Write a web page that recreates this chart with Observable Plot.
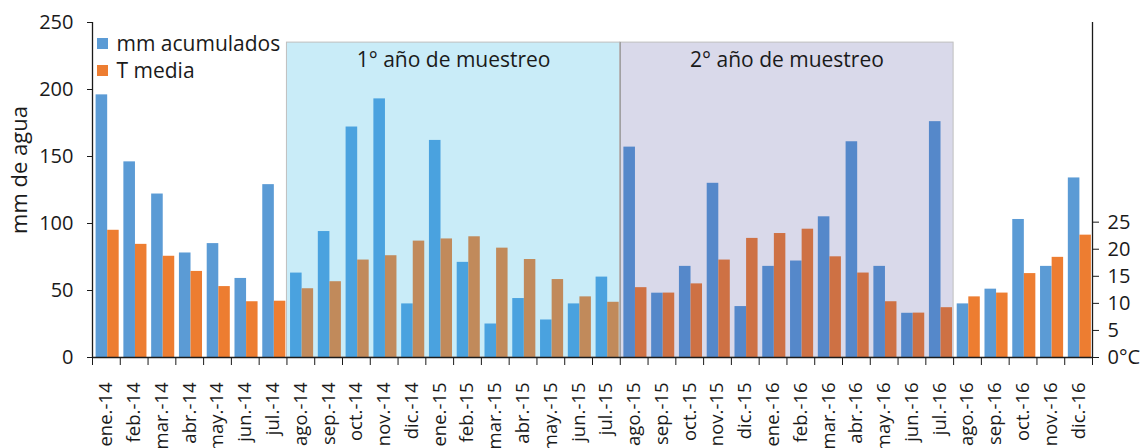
<!DOCTYPE html>
<html><head><meta charset="utf-8">
<script src="https://cdn.jsdelivr.net/npm/d3@7"></script>
<script src="https://cdn.jsdelivr.net/npm/@observablehq/plot@0.6"></script>
<style>
body{margin:0;background:#fff}
#chart svg{font-family:"Open Sans",sans-serif;overflow:visible}
</style>
</head><body><div id="chart"></div>
<script>
// ---- data ----
const months = ["ene.-14","feb.-14","mar.-14","abr.-14","may.-14","jun.-14","jul.-14",
  "ago.-14","sep.-14","oct.-14","nov.-14","dic.-14","ene.-15","feb.-15","mar.-15","abr.-15","may.-15","jun.-15","jul.-15",
  "ago.-15","sep.-15","oct.-15","nov.-15","dic.-15","ene.-16","feb.-16","mar.-16","abr.-16","may.-16","jun.-16","jul.-16",
  "ago.-16","sep.-16","oct.-16","nov.-16","dic.-16"];
const mmAcumulados = [196,146,122,78,85,59,129,
  63,94,172,193,40,162,71,25,44,28,40,60,
  157,48,68,130,38,68,72,105,161,68,33,176,
  40,51,103,68,134];
const tMedia = [23.5,20.9,18.7,15.9,13.1,10.3,10.4,
  12.7,14.0,18.0,18.8,21.5,21.9,22.3,20.2,18.1,14.4,11.2,10.2,
  12.9,11.9,13.6,18.0,22.0,22.9,23.7,18.6,15.6,10.3,8.2,9.2,
  11.2,11.9,15.5,18.5,22.6];
const mmTicks = [0,50,100,150,200,250];
const tempTicks = [0,5,10,15,20,25];
const periodLabels = ["1° año de muestreo","2° año de muestreo"];
const periodStart = ["ago.-14","ago.-15"];
const periodEnd = ["jul.-15","jul.-16"];
const periodTop = 235;
const seriesNames = ["mm acumulados","T media"];

// ---- styles ----
const K = 4.04; // mm per °C on the shared vertical scale
const blueCols = ["#5B9BD5","#4AA2DF","#5588CA"];
const orangeCols = ["#ED7D31","#C18A5B","#CE7144"];
const bgCols = ["#C9ECF8","#D9D9EA"];

const periods = periodLabels.map((label,k)=>({
  label, s: months.indexOf(periodStart[k]), e: months.indexOf(periodEnd[k]) + 1, fill: bgCols[k]
}));
const data = months.map((m,i)=>{
  let region = 0;
  periods.forEach((p,k)=>{ if (i>=p.s && i<p.e) region = k+1; });
  return {month:m, i, mm:mmAcumulados[i], t:tMedia[i], region};
});

const chart = Plot.plot({
  width: 1146, height: 448,
  marginLeft: 92, marginRight: 54, marginTop: 22, marginBottom: 91,
  style: {fontSize: "20px", color: "#1a1a1a", background: "#fff"},
  x: {type: "linear", domain: [0, months.length]},
  y: {domain: [0, 250]},
  color: {type: "identity"},
  marks: [
    Plot.rect(periods, {x1: "s", x2: "e", y1: 0, y2: periodTop, fill: "fill", stroke: "#BFBFBF", strokeWidth: 1}),
    Plot.ruleX([periods[1].s], {y1: 0, y2: periodTop, stroke: "#9a9a9a", strokeWidth: 1.2}),
    Plot.rectY(data, {x1: d=>d.i, x2: d=>d.i+1, y: "mm", insetLeft: 3.6, insetRight: 12.6, fill: d=>blueCols[d.region]}),
    Plot.rectY(data, {x1: d=>d.i, x2: d=>d.i+1, y: d=>d.t*K, insetLeft: 15.2, insetRight: 1.1, fill: d=>orangeCols[d.region]}),
    Plot.text(periods, {x: d=>(d.s+d.e)/2, y: periodTop, text: "label", dy: 18, fontSize: 21, fill: "#1a1a1a", lineAnchor: "middle"}),
    // axes
    Plot.axisX({ticks: d3.range(months.length+1), tickSize: 8, tickFormat: () => "", stroke: "#1a1a1a"}),
    Plot.text(data, {x: d=>d.i+0.5, y: 0, text: "month", rotate: -90, textAnchor: "end", lineAnchor: "middle", dy: 25, fontSize: 18.5, fill: "#1a1a1a"}),
    Plot.axisY({ticks: mmTicks, tickSize: 5, tickPadding: 14, label: null, stroke: "#1a1a1a"}),
    Plot.axisY({anchor: "right", ticks: tempTicks.map(t=>t*K), tickSize: 6, tickPadding: 9, label: null, stroke: "#1a1a1a",
      tickFormat: v => { const t = Math.round(v/K); return t === 0 ? "0°C" : String(t); }}),
    Plot.ruleY([0], {stroke: "#1a1a1a", strokeWidth: 1.3}),
    Plot.ruleX([0], {stroke: "#1a1a1a", strokeWidth: 1.3}),
    Plot.ruleX([months.length], {stroke: "#1a1a1a", strokeWidth: 1.3}),
    Plot.text(["mm de agua"], {frameAnchor: "left", textAnchor: "middle", lineAnchor: "middle", rotate: -90, dx: -73, dy: -20, fontSize: 22, fill: "#1a1a1a"}),
    // legend
    Plot.dot([0], {frameAnchor: "top-left", dx: 10, dy: 21, symbol: "square", r: 6.2, fill: blueCols[0], stroke: null}),
    Plot.dot([0], {frameAnchor: "top-left", dx: 10, dy: 48, symbol: "square", r: 6.2, fill: orangeCols[0], stroke: null}),
    Plot.text([seriesNames[0]], {frameAnchor: "top-left", dx: 24, dy: 22, textAnchor: "start", lineAnchor: "middle", fontSize: 21, fill: "#1a1a1a"}),
    Plot.text([seriesNames[1]], {frameAnchor: "top-left", dx: 24, dy: 49, textAnchor: "start", lineAnchor: "middle", fontSize: 21, fill: "#1a1a1a"})
  ]
});
document.getElementById("chart").appendChild(chart);
</script>
</body></html>
